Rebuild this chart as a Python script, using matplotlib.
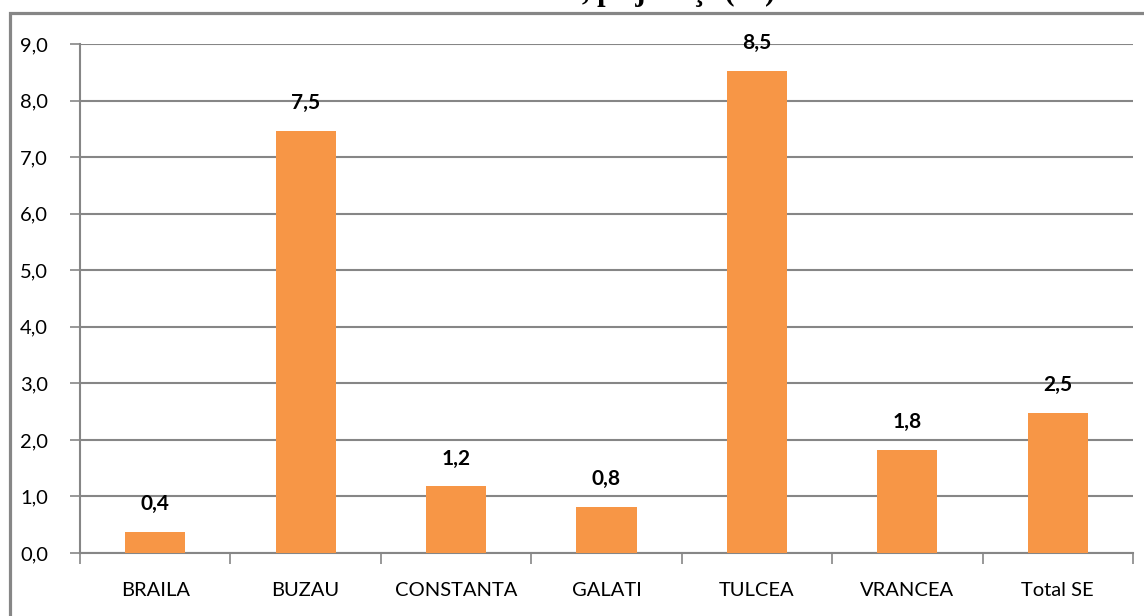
import matplotlib
matplotlib.use("Agg")
import matplotlib.pyplot as plt
from matplotlib.patches import Rectangle

categories = ["BRAILA", "BUZAU", "CONSTANTA", "GALATI", "TULCEA", "VRANCEA", "Total SE"]
values = [0.37, 7.47, 1.18, 0.81, 8.53, 1.82, 2.48]
yticks = [0, 1, 2, 3, 4, 5, 6, 7, 8, 9]

W, H = 1144, 616
fig = plt.figure(figsize=(W / 100, H / 100), dpi=100)
ax = fig.add_axes([80 / W, 1 - 553 / H, (1133 - 80) / W, (553 - 44) / H])

grey = "#868686"
font = ["Lato", "DejaVu Sans"]

x = list(range(len(categories)))
ax.bar(x, values, width=0.4, color="#F79646", zorder=3)

for xi, v in zip(x, values):
    ax.annotate(f"{v:.1f}".replace(".", ","), (xi, v), xytext=(0, 20),
                textcoords="offset points", ha="center", va="center",
                fontsize=15, fontweight="bold", family=font, color="black")

ax.set_xlim(-0.5, len(categories) - 0.5)
ax.set_ylim(0, 9)
ax.set_yticks(yticks)
ax.set_yticklabels([f"{t:.1f}".replace(".", ",") for t in yticks], family=font, fontsize=14.5)
ax.yaxis.grid(True, color=grey, linewidth=1.5, zorder=0)

# category labels in the middle, ticks on the boundaries
ax.set_xticks(x)
ax.set_xticklabels(categories, family=font, fontsize=14.5)
ax.tick_params(axis="x", which="major", length=0, pad=21)
ax.set_xticks([i - 0.5 for i in range(len(categories) + 1)], minor=True)
ax.tick_params(axis="x", which="minor", length=8, width=1.2, color=grey, direction="out")
ax.tick_params(axis="y", length=7, width=1.2, color=grey, pad=16)

for s in ["top", "right"]:
    ax.spines[s].set_visible(False)
for s in ["left", "bottom"]:
    ax.spines[s].set_color(grey)
    ax.spines[s].set_linewidth(1.5)

# outer chart frame, cut by the image edges
fig.patches.append(Rectangle((10 / W, -0.1), 1.2, 1 - 13 / H + 0.1, transform=fig.transFigure,
                             fill=False, edgecolor=grey, linewidth=2.3))

# title, mostly above the cropped image
fig.text(582 / W, 1 + 0.5 / H, ", pe judeţe (%)", ha="left", va="baseline",
         family=["Liberation Serif", "DejaVu Serif"], fontweight="bold", fontsize=22)

fig.savefig("out.png", dpi=100)
